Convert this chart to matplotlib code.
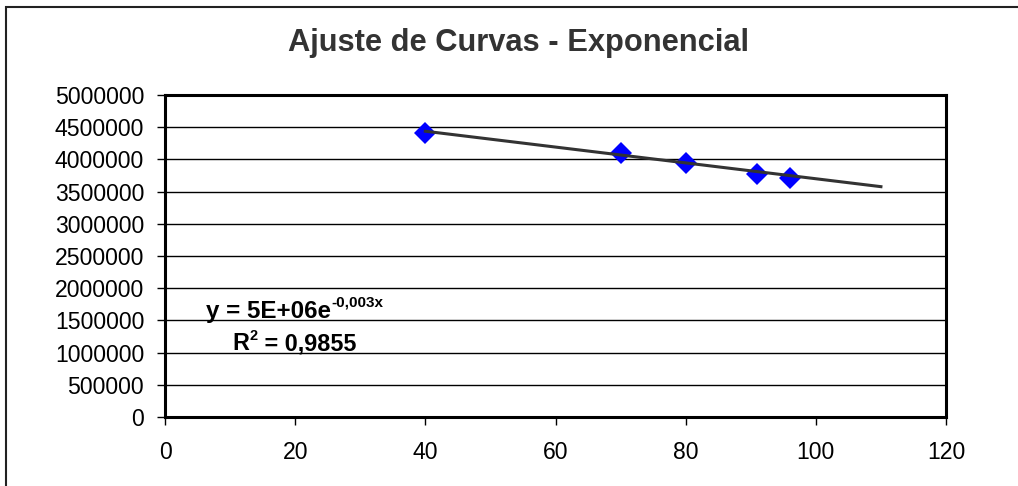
import numpy as np
import matplotlib
matplotlib.use("Agg")
import matplotlib.pyplot as plt
from matplotlib.patches import Rectangle

plt.rcParams['font.family'] = ['Liberation Sans', 'DejaVu Sans']

# dados
x_dados = [40, 70, 80, 91, 96]
y_dados = [4407000, 4097000, 3942000, 3777000, 3710000]
x_ticks = [0, 20, 40, 60, 80, 100, 120]
y_ticks = [0, 500000, 1000000, 1500000, 2000000, 2500000, 3000000,
           3500000, 4000000, 4500000, 5000000]
titulo = "Ajuste de Curvas - Exponencial"
eq_base = "y = 5E+06e"
eq_expo = "-0,003x"
r2_base = "R"
r2_expo = "2"
r2_resto = " = 0,9855"

# linha de tendencia exponencial (ajuste nos dados)
b, ln_a = np.polyfit(x_dados, np.log(y_dados), 1)
x_tend = np.array([40, 110])
y_tend = np.exp(ln_a) * np.exp(b * x_tend)

fig = plt.figure(figsize=(10.18, 4.86), dpi=100)
ax = fig.add_axes([165/1018, 1-417/486, (946-165)/1018, (417-95)/486])

for v in y_ticks[1:-1]:
    ax.axhline(v, color='black', lw=1.0, zorder=1)

ax.plot(x_tend, y_tend, '-', color='#333333', lw=2.2, zorder=3)
ax.plot(x_dados, y_dados, 'D', color='#0000ff', markersize=11.5,
        markeredgewidth=0, zorder=2)

ax.set_xlim(0, 120)
ax.set_ylim(0, 5000000)
ax.set_xticks(x_ticks)
ax.set_yticks(y_ticks)
ax.set_yticklabels([str(v) for v in y_ticks])
ax.tick_params(axis='both', direction='out', length=6, width=1,
               labelsize=16.6, colors='black')
ax.tick_params(axis='x', pad=11)
ax.tick_params(axis='y', pad=9)
for s in ax.spines.values():
    s.set_linewidth(2.2)
    s.set_color('black')

fig.text(518/1018, 1-43/486, titulo, ha='center', va='center',
         fontsize=22.2, fontweight='bold', color='#333333')

# equacao e R2 (linha de base em coordenadas de dados)
t1 = ax.text(6.3, 1542000, eq_base, fontsize=17.4, fontweight='bold',
             ha='left', va='baseline', color='black')
ax.annotate(eq_expo, xy=(1, 1713000), xycoords=(t1, 'data'),
            fontsize=11, fontweight='bold', ha='left', va='baseline',
            color='black')
t2 = ax.text(10.4, 1040000, r2_base, fontsize=16.8, fontweight='bold',
             ha='left', va='baseline', color='black')
t3 = ax.annotate(r2_expo, xy=(1, 1196000), xycoords=(t2, 'data'),
                 fontsize=10.5, fontweight='bold', ha='left',
                 va='baseline', color='black')
ax.annotate(r2_resto, xy=(1, 1040000), xycoords=(t3, 'data'),
            fontsize=16.8, fontweight='bold', ha='left', va='baseline',
            color='black')

# moldura do grafico
fig.patches.append(Rectangle((6/1018, -0.2), 1.5, 1.2 - 7/486,
                             transform=fig.transFigure, fill=False,
                             edgecolor='#222222', lw=1.5))

fig.savefig("out.png", dpi=100)
